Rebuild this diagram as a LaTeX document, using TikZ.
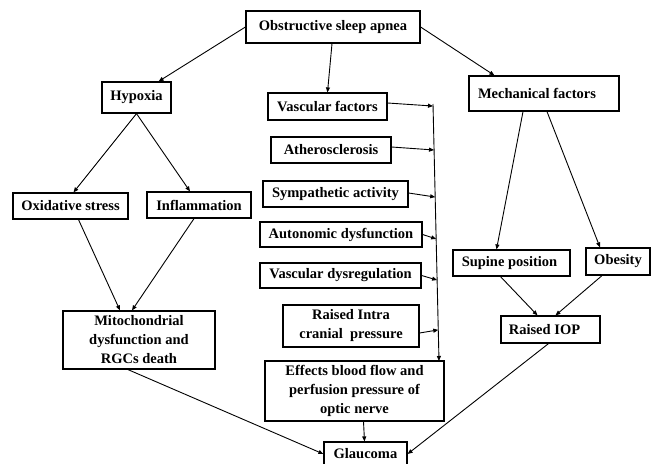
\documentclass[tikz,border=0pt]{standalone}
\usepackage{fontspec}
\setmainfont{Liberation Serif}
\usetikzlibrary{arrows.meta,calc}
\begin{document}
\begin{tikzpicture}[x=1pt,y=-1pt,
  box/.style={draw,line width=1.2pt,inner sep=0pt,align=center,font=\bfseries\fontsize{14.5}{19}\selectfont},
  arr/.style={line width=0.9pt,-{Triangle[length=5pt,width=4pt]}}]
\useasboundingbox (0,0) rectangle (653,463);
\fill[white] (0,0) rectangle (653,463);
% nodes
\node[box,minimum width=174pt,minimum height=32pt] (osa) at (333,27) {Obstructive sleep apnea};
\node[box,minimum width=69pt,minimum height=31pt] (hyp) at (136.5,97.5) {Hypoxia};
\node[box,minimum width=115pt,minimum height=26pt] (oxs) at (70.5,206) {Oxidative stress};
\node[box,minimum width=104pt,minimum height=26pt] (inf) at (199,205) {Inflammation};
\node[box,minimum width=152pt,minimum height=58pt] (mito) at (139,340) {Mitochondrial\\dysfunction and\\RGCs death};
\node[box,minimum width=119pt,minimum height=27pt] (vf) at (327.5,106.5) {Vascular factors};
\node[box,minimum width=120pt,minimum height=26pt] (ath) at (331,150) {Atherosclerosis};
\node[box,minimum width=145pt,minimum height=26pt] (sym) at (335.5,194) {Sympathetic activity};
\node[box,minimum width=162pt,minimum height=25pt] (aut) at (341,234.5) {Autonomic dysfunction};
\node[box,minimum width=161pt,minimum height=25pt] (vdr) at (340.5,275.5) {Vascular dysregulation};
\node[box,minimum width=136pt,minimum height=42pt] (ricp) at (351,326) {Raised Intra\\cranial~~pressure};
\node[box,minimum width=179pt,minimum height=60pt] (eff) at (354.5,391) {Effects blood flow and\\perfusion pressure of\\optic nerve};
\node[box,minimum width=83pt,minimum height=24pt] (gla) at (365.5,454) {Glaucoma};
\node[box,minimum width=150pt,minimum height=35pt] (mech) at (544,93.5) {Mechanical factors\hspace*{14pt}};
\node[box,minimum width=117pt,minimum height=26pt] (sup) at (511.5,263) {Supine position\hspace*{4pt}};
\node[box,minimum width=64pt,minimum height=27pt] (obe) at (618,261.5) {Obesity};
\node[box,minimum width=99pt,minimum height=27pt] (iop) at (550.5,329.5) {Raised IOP\hspace*{12pt}};
% vertical collector line
\coordinate (vtop) at (433,104);
\coordinate (vbot) at (439,361);
\draw[arr] (vtop) -- (vbot);
\draw[arr] ([yshift=3.5pt]vf.east) -- ($(vtop)!0.008!(vbot)$);
\draw[arr] ([yshift=3pt]ath.east) -- ($(vtop)!0.179!(vbot)$);
\draw[arr] ([yshift=1pt]sym.east) -- ($(vtop)!0.362!(vbot)$);
\draw[arr] (aut.east) -- ($(vtop)!0.525!(vbot)$);
\draw[arr] (vdr.east) -- ($(vtop)!0.685!(vbot)$);
\draw[arr] ([yshift=-7pt]ricp.east) -- ($(vtop)!0.879!(vbot)$);
% other connectors
\draw[arr] (osa.west) -- ([xshift=-13pt]hyp.north east);
\draw[arr] ([xshift=-1pt]osa.south) -- (vf.north);
\draw[arr] (osa.east) -- ([xshift=26pt]mech.north west);
\draw[arr] (hyp.south) -- ([xshift=3pt]oxs.north);
\draw[arr] (hyp.south) -- ([xshift=-9pt]inf.north);
\draw[arr] ([xshift=8pt]oxs.south) -- ([xshift=-19pt]mito.north);
\draw[arr] ([xshift=-5pt]inf.south) -- ([xshift=-7pt]mito.north);
\draw[arr] ([xshift=-11pt]mito.south) -- (gla.west);
\draw[arr] ([xshift=9pt]eff.south) -- ([xshift=-1pt]gla.north);
\draw[arr] ([xshift=-2pt]iop.south) -- (gla.east);
\draw[arr] ([xshift=-21pt]mech.south) -- ([xshift=-15pt]sup.north);
\draw[arr] ([xshift=3pt]mech.south) -- ([xshift=-18pt]obe.north);
\draw[arr] ([xshift=-11pt]sup.south) -- ([xshift=-13pt]iop.north);
\draw[arr] ([xshift=-16pt]obe.south) -- ([xshift=5pt]iop.north);
\end{tikzpicture}
\end{document}
